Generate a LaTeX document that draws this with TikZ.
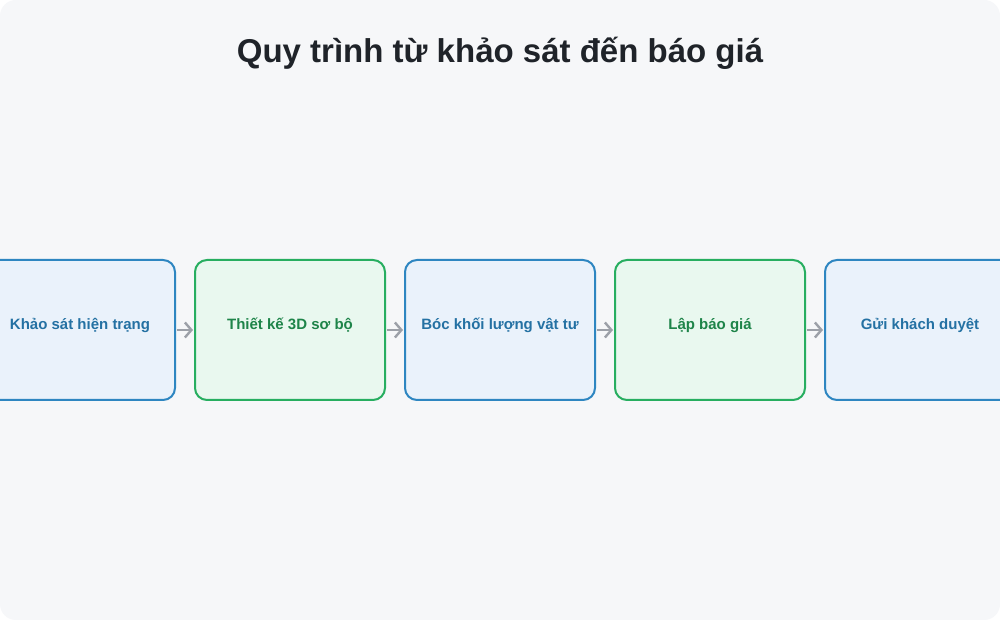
\documentclass[tikz,border=0pt]{standalone}
\usepackage{fontspec}
\setmainfont{Liberation Sans}
\usepackage{xcolor}
\usetikzlibrary{positioning, arrows.meta}

\definecolor{pagebg}{HTML}{F6F7F9}
\definecolor{titlecol}{HTML}{1F2329}
\definecolor{bluefill}{HTML}{EAF2FB}
\definecolor{blueline}{HTML}{2E86C1}
\definecolor{bluetext}{HTML}{2471A3}
\definecolor{greenfill}{HTML}{E9F8EF}
\definecolor{greenline}{HTML}{27AE60}
\definecolor{greentext}{HTML}{1E8449}
\definecolor{arrowcol}{HTML}{9CA0A8}

\tikzset{
    stagebox/.style = {rounded corners = 12pt, line width = 2pt, minimum width = 190pt, minimum height = 140pt, text height = 6pt, text depth = 6pt, font = \fontsize{15}{18}\selectfont\bfseries},
    bluestage/.style = {stagebox, draw = blueline, fill = bluefill, text = bluetext},
    greenstage/.style = {stagebox, draw = greenline, fill = greenfill, text = greentext},
    flow/.style = {draw = arrowcol, line width = 2.4pt, -{Straight Barb[length = 6.5pt, width = 15pt]}, shorten < = 1pt, shorten > = 1pt}
}

\begin{document}
\begin{tikzpicture}[x = 1pt, y = 1pt]

    \useasboundingbox (0, 0) rectangle (1000, 620);
    \fill [white] (0, 0) rectangle (1000, 620);
    \fill [pagebg, rounded corners = 16pt] (0, 0) rectangle (1000, 620);

    \node [text = titlecol, font = \fontsize{33}{38}\selectfont\bfseries] (title) at (500, 567) {Quy trình từ khảo sát đến báo giá};

    \node [bluestage] (survey) at (80, 290) {Khảo sát hiện trạng};
    \node [greenstage] (design) at (290, 290) {Thiết kế 3D sơ bộ};
    \node [bluestage] (takeoff) at (500, 290) {Bóc khối lượng vật tư};
    \node [greenstage] (quote) at (710, 290) {Lập báo giá};
    \node [bluestage] (send) at (920, 290) {Gửi khách duyệt};

    \draw [flow] (survey) -- (design);
    \draw [flow] (design) -- (takeoff);
    \draw [flow] (takeoff) -- (quote);
    \draw [flow] (quote) -- (send);
\end{tikzpicture}
\end{document}
